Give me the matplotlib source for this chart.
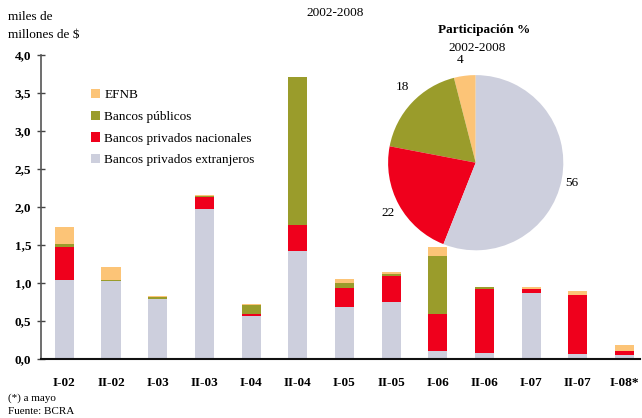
import matplotlib
matplotlib.use("Agg")
import matplotlib.pyplot as plt
import numpy as np

categories = ["I-02", "II-02", "I-03", "II-03", "I-04", "II-04", "I-05", "II-05",
              "I-06", "II-06", "I-07", "II-07", "I-08*"]
extranjeros = [1.04, 1.02, 0.79, 1.97, 0.57, 1.42, 0.68, 0.75, 0.10, 0.08, 0.87, 0.07, 0.05]
nacionales  = [0.43, 0.00, 0.00, 0.16, 0.02, 0.34, 0.25, 0.34, 0.49, 0.84, 0.05, 0.77, 0.05]
publicos    = [0.04, 0.02, 0.03, 0.02, 0.12, 1.95, 0.07, 0.03, 0.76, 0.03, 0.00, 0.00, 0.00]
efnb        = [0.23, 0.17, 0.01, 0.01, 0.01, 0.00, 0.05, 0.02, 0.12, 0.00, 0.03, 0.05, 0.08]

pie_labels = ["EFNB", "Bancos públicos", "Bancos privados nacionales", "Bancos privados extranjeros"]
pie_values = [4, 18, 22, 56]

c_ext = "#CDCFDD"
c_nac = "#EF001C"
c_pub = "#9A9C2B"
c_efnb = "#FCC477"

plt.rcParams['font.family'] = ['Liberation Serif', 'DejaVu Serif']

fig = plt.figure(figsize=(6.42, 4.18), dpi=100)
W, H = 642, 418
ax = fig.add_axes([41 / W, 1 - 359 / H, (640 - 41) / W, (359 - 55) / H])

x = np.arange(len(categories))
w = 0.41
b1 = np.array(extranjeros)
b2 = b1 + np.array(nacionales)
b3 = b2 + np.array(publicos)
ax.bar(x, extranjeros, w, color=c_ext, label="Bancos privados extranjeros")
ax.bar(x, nacionales, w, bottom=b1, color=c_nac, label="Bancos privados nacionales")
ax.bar(x, publicos, w, bottom=b2, color=c_pub, label="Bancos públicos")
ax.bar(x, efnb, w, bottom=b3, color=c_efnb, label="EFNB")

ax.set_xlim(-0.5, 12.33)
ax.set_ylim(0, 4)
ax.set_yticks(np.arange(0, 4.01, 0.5))
ax.set_yticklabels([f"{v:.1f}".replace(".", ",") for v in np.arange(0, 4.01, 0.5)],
                   fontweight="bold", fontsize=9.5)
ax.set_xticks(x)
ax.set_xticklabels(categories, fontweight="bold", fontsize=9.5)
ax.tick_params(axis="x", length=0, pad=13)
ax.tick_params(axis="y", direction="inout", length=6, width=1, color="#444444", pad=4)
for s in ["top", "right"]:
    ax.spines[s].set_visible(False)
ax.spines["left"].set_color("#555555")
ax.spines["left"].set_linewidth(1.2)
ax.spines["bottom"].set_color("#111111")
ax.spines["bottom"].set_linewidth(1.5)

handles, labels = ax.get_legend_handles_labels()
order = [3, 2, 1, 0]
ax.legend([handles[i] for i in order], [labels[i] for i in order],
          loc="upper left", bbox_to_anchor=(91 / W, 1 - 89 / H), bbox_transform=fig.transFigure,
          frameon=False, fontsize=9.5, handlelength=0.7, handleheight=0.7,
          handletextpad=0.3, labelspacing=0.72, borderaxespad=0, borderpad=0)

fig.text(335 / W, 1 - 13 / H, "2002-2008", ha="center", va="center", fontsize=9.5)
fig.text(8 / W, 1 - 17 / H, "miles de", ha="left", va="center", fontsize=9.5)
fig.text(8 / W, 1 - 35 / H, "millones de $", ha="left", va="center", fontsize=9.5)
fig.text(8 / W, 1 - 398 / H, "(*) a mayo", ha="left", va="center", fontsize=8)
fig.text(8 / W, 1 - 412 / H, "Fuente: BCRA", ha="left", va="center", fontsize=8)

# Pie inset
cx, cy, r = 475.7, 162.7, 87.6
pax = fig.add_axes([(cx - r) / W, 1 - (cy + r) / H, 2 * r / W, 2 * r / H])
pax.pie(pie_values, colors=[c_efnb, c_pub, c_nac, c_ext], startangle=90,
        counterclock=True, radius=1.0, wedgeprops=dict(linewidth=0))
pax.set_xlim(-1, 1)
pax.set_ylim(-1, 1)
pax.set_aspect("equal")
pax.axis("off")
label_pos = [(-0.18, 1.17), (-0.84, 0.86), (-1.0, -0.57), (1.10, -0.23)]
for v, (px, py) in zip(pie_values, label_pos):
    pax.text(px, py, str(v), ha="center", va="center", fontsize=9.5, clip_on=False)

fig.text(484 / W, 1 - 30 / H, "Participación %", ha="center", va="center",
         fontsize=9.5, fontweight="bold")
fig.text(477 / W, 1 - 48 / H, "2002-2008", ha="center", va="center", fontsize=9.5)

fig.savefig("out.png", dpi=100)
